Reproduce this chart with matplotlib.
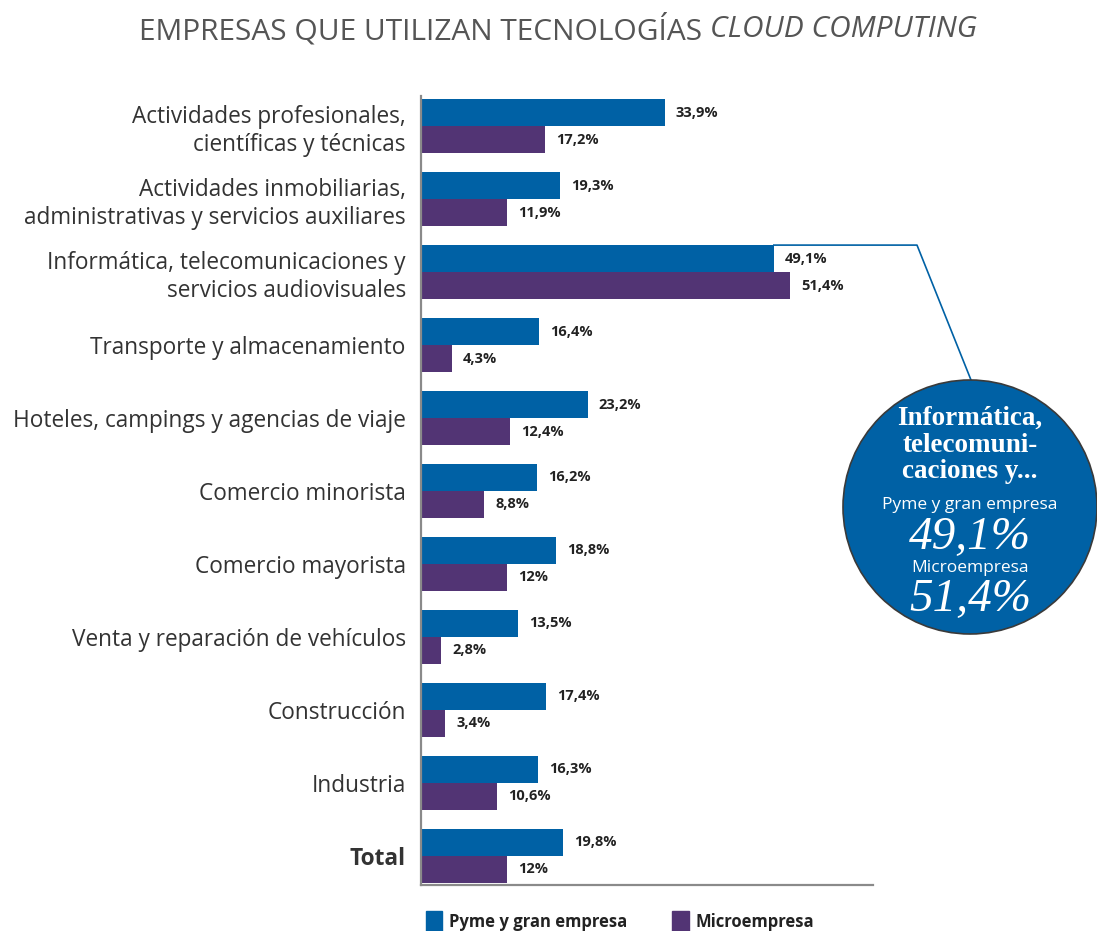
import numpy as np
import matplotlib.pyplot as plt
from matplotlib.patches import Circle, Patch
from matplotlib.lines import Line2D

# sectors, top to bottom
categories = [
    "Actividades profesionales,\ncientíficas y técnicas",
    "Actividades inmobiliarias,\nadministrativas y servicios auxiliares",
    "Informática, telecomunicaciones y\nservicios audiovisuales",
    "Transporte y almacenamiento",
    "Hoteles, campings y agencias de viaje",
    "Comercio minorista",
    "Comercio mayorista",
    "Venta y reparación de vehículos",
    "Construcción",
    "Industria",
    "Total",
]
pyme = [33.9, 19.3, 49.1, 16.4, 23.2, 16.2, 18.8, 13.5, 17.4, 16.3, 19.8]
micro = [17.2, 11.9, 51.4, 4.3, 12.4, 8.8, 12.0, 2.8, 3.4, 10.6, 12.0]
series_names = ["Pyme y gran empresa", "Microempresa"]
highlight = 2  # sector shown in the bubble

blue = "#0061a5"
purple = "#523474"
text_col = "#333333"
sans = ["Open Sans", "DejaVu Sans"]


def pct(v):
    s = f"{v:.1f}".replace(".", ",")
    if s.endswith(",0"):
        s = s[:-2]
    return s + "%"


fig = plt.figure(figsize=(10.97, 9.31), dpi=100)
ax = fig.add_axes([0.3838, 0.0494, 0.412, 0.848])

y = np.arange(len(categories))
h = 0.37
ax.barh(y - h / 2, pyme, height=h, color=blue)
ax.barh(y + h / 2, micro, height=h, color=purple)

for yi, v in zip(y, pyme):
    ax.annotate(pct(v), (v, yi - h / 2), xytext=(8, 0), textcoords="offset points",
                va="center", ha="left", fontsize=10.5, fontweight="bold",
                color="#222222", family=sans)
for yi, v in zip(y, micro):
    ax.annotate(pct(v), (v, yi + h / 2), xytext=(8, 0), textcoords="offset points",
                va="center", ha="left", fontsize=10.5, fontweight="bold",
                color="#222222", family=sans)

ax.set_xlim(0, 62.9)
ax.set_ylim(len(categories) - 0.6, -0.42)
ax.set_yticks(y)
ax.set_yticklabels(categories, fontsize=16.3, color=text_col, family=sans,
                   linespacing=1.2)
ax.get_yticklabels()[-1].set_fontweight("bold")
ax.tick_params(axis="y", length=0, pad=11)
ax.set_xticks([])
for side in ["top", "right"]:
    ax.spines[side].set_visible(False)
for side in ["left", "bottom"]:
    ax.spines[side].set_color("#8a8a8a")
    ax.spines[side].set_linewidth(1.6)

# title: upright part followed by italic part
renderer = fig.canvas.get_renderer()
t1 = fig.text(0.127, 0.968, "EMPRESAS QUE UTILIZAN TECNOLOGÍAS ", fontsize=21.5,
              color="#555555", family=sans, va="center", ha="left")
bb = t1.get_window_extent(renderer).transformed(fig.transFigure.inverted())
fig.text(bb.x1, 0.968, "CLOUD COMPUTING", fontsize=21.5, style="italic",
         color="#555555", family=sans, va="center", ha="left")

# bubble for the highlighted sector
inch = fig.dpi_scale_trans
cx, cy, r = 9.70, 4.24, 1.27
fig.patches.append(Circle((cx, cy), r, transform=inch, facecolor=blue,
                          edgecolor="#3a3a3a", linewidth=1.2, zorder=3))

# connector from the highlighted bar to the bubble
to_inch = ax.transData + inch.inverted()
x0, y0 = to_inch.transform((pyme[highlight], highlight - h))
fig.lines.append(Line2D([x0, 9.17, 9.71], [y0, y0, cy + r], transform=inch,
                        color=blue, linewidth=1.2, zorder=2))

serif = ["Liberation Serif", "DejaVu Serif"]
fx = cx / 10.97
fig.text(fx, 4.86 / 9.31, "Informática,\ntelecomuni-\ncaciones y...",
         ha="center", va="center", color="white", fontsize=19.5,
         fontweight="bold", family=serif, linespacing=1.08, zorder=4)
fig.text(fx, 4.26 / 9.31, series_names[0], ha="center", va="center",
         color="white", fontsize=12.5, family=sans, zorder=4)
fig.text(fx, 3.93 / 9.31, pct(pyme[highlight]), ha="center", va="center",
         color="white", fontsize=34, style="italic", family=serif, zorder=4)
fig.text(fx, 3.63 / 9.31, series_names[1], ha="center", va="center",
         color="white", fontsize=12.5, family=sans, zorder=4)
fig.text(fx, 3.31 / 9.31, pct(micro[highlight]), ha="center", va="center",
         color="white", fontsize=34, style="italic", family=serif, zorder=4)

handles = [Patch(color=blue), Patch(color=purple)]
leg = fig.legend(handles, series_names, ncol=2, loc="upper left",
                 bbox_to_anchor=(0.382, 0.029), frameon=False,
                 handlelength=1.0, handleheight=1.6, handletextpad=0.4,
                 columnspacing=2.7, borderaxespad=0,
                 prop={"family": sans, "weight": "bold", "size": 12})
for t in leg.get_texts():
    t.set_color("#222222")

fig.savefig("out.png", dpi=100)
